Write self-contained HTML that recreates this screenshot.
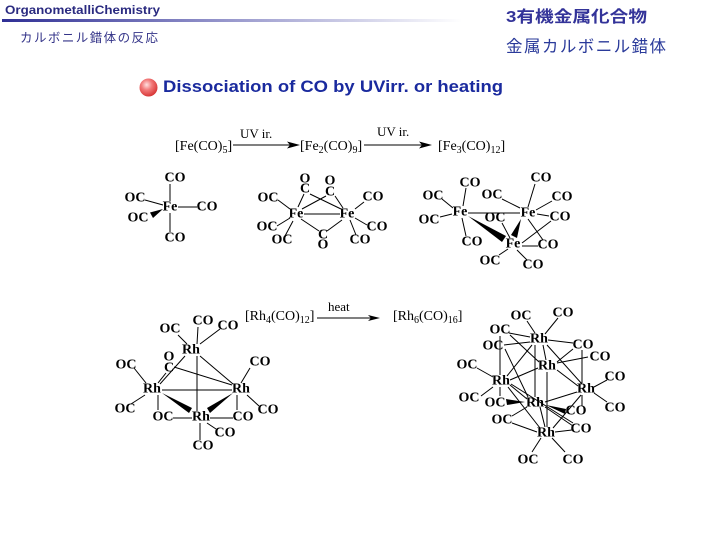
<!DOCTYPE html>
<html><head><meta charset="utf-8"><style>
html,body{margin:0;padding:0;background:#fff;}
svg{display:block;}
.b{font-family:"Liberation Serif",serif;font-weight:bold;font-size:14px;text-anchor:middle;dominant-baseline:central;fill:#000;}
.r{font-family:"Liberation Serif",serif;font-size:14px;fill:#000;}
.s{font-family:"Liberation Serif",serif;font-size:13px;fill:#000;}
line{stroke:#000;stroke-width:1;}
</style></head><body>
<svg width="719" height="539" viewBox="0 0 719 539" xmlns="http://www.w3.org/2000/svg">
<defs>
<linearGradient id="bar" x1="0" x2="1" y1="0" y2="0">
<stop offset="0" stop-color="#2f2f95"/><stop offset="0.45" stop-color="#8f8fc8"/><stop offset="1" stop-color="#ffffff"/>
</linearGradient>
<radialGradient id="ball" cx="0.4" cy="0.35" r="0.65">
<stop offset="0" stop-color="#ffe0e0"/><stop offset="0.45" stop-color="#f27a7a"/><stop offset="1" stop-color="#d83838"/>
</radialGradient>
</defs>
<rect width="719" height="539" fill="#fff"/>
<!-- header -->
<text x="5" y="14" font-family="Liberation Sans, sans-serif" font-weight="bold" font-size="12" fill="#2a2a80" textLength="155" lengthAdjust="spacingAndGlyphs">OrganometalliChemistry</text>
<rect x="2" y="19" width="460" height="3" fill="url(#bar)"/>
<text x="20" y="42" font-family="Liberation Sans, 'Noto Sans CJK JP', sans-serif" font-size="12.5" fill="#333388" textLength="138" lengthAdjust="spacing">カルボニル錯体の反応</text>
<text x="506" y="22" font-family="Liberation Sans, 'Noto Sans CJK JP', sans-serif" font-weight="bold" font-size="16" fill="#333399" textLength="141" lengthAdjust="spacingAndGlyphs">3有機金属化合物</text>
<text x="506" y="52" font-family="Liberation Sans, 'Noto Sans CJK JP', sans-serif" font-size="16.5" fill="#2a3a9a" textLength="160" lengthAdjust="spacing">金属カルボニル錯体</text>
<!-- title -->
<circle cx="148.5" cy="87.5" r="9" fill="url(#ball)"/>
<text x="163" y="92" font-family="Liberation Sans, sans-serif" font-weight="bold" font-size="17" fill="#1a2a9e" textLength="340" lengthAdjust="spacingAndGlyphs">Dissociation of CO by UVirr. or heating</text>

<!-- Fe reactions -->
<text class="r" x="175" y="150">[Fe(CO)<tspan font-size="10" dy="3">5</tspan><tspan dy="-3">]</tspan></text>
<text class="s" x="240" y="138">UV ir.</text>
<line x1="233" y1="145" x2="292" y2="145"/>
<polygon points="300,145 287,141.5 290,145 287,148.5" fill="#000"/>
<text class="r" x="300" y="150">[Fe<tspan font-size="10" dy="3">2</tspan><tspan dy="-3">(CO)</tspan><tspan font-size="10" dy="3">9</tspan><tspan dy="-3">]</tspan></text>
<text class="s" x="377" y="136">UV ir.</text>
<line x1="364" y1="145" x2="425" y2="145"/>
<polygon points="432,145 419,141.5 422,145 419,148.5" fill="#000"/>
<text class="r" x="438" y="150">[Fe<tspan font-size="10" dy="3">3</tspan><tspan dy="-3">(CO)</tspan><tspan font-size="10" dy="3">12</tspan><tspan dy="-3">]</tspan></text>

<!-- Fe(CO)5 -->
<line x1="170" y1="184" x2="170" y2="201"/>
<line x1="170" y1="213" x2="170" y2="232"/>
<line x1="178" y1="207" x2="197" y2="207"/>
<line x1="145" y1="200" x2="163" y2="205"/>
<polygon points="163,209 150,212.5 153,218" fill="#000"/>
<text class="b" x="175" y="178">CO</text>
<text class="b" x="135" y="198">OC</text>
<text class="b" x="170" y="207">Fe</text>
<text class="b" x="207" y="207">CO</text>
<text class="b" x="138" y="218">OC</text>
<text class="b" x="175" y="238">CO</text>

<!-- Fe2(CO)9 -->
<line x1="278" y1="200" x2="290" y2="209"/>
<line x1="277" y1="226" x2="290" y2="218"/>
<line x1="285" y1="236" x2="293" y2="221"/>
<line x1="304" y1="214" x2="340" y2="214"/>
<line x1="304" y1="194" x2="298" y2="207"/>
<line x1="310" y1="194" x2="341" y2="209"/>
<line x1="326" y1="196" x2="302" y2="209"/>
<line x1="335" y1="196" x2="343" y2="208"/>
<line x1="319" y1="231" x2="301" y2="219"/>
<line x1="327" y1="231" x2="342" y2="220"/>
<line x1="355" y1="209" x2="364" y2="202"/>
<line x1="355" y1="218" x2="367" y2="225"/>
<line x1="350" y1="220" x2="356" y2="235"/>
<text class="b" x="305" y="179">O</text>
<text class="b" x="305" y="189">C</text>
<text class="b" x="330" y="181">O</text>
<text class="b" x="330" y="192">C</text>
<text class="b" x="268" y="198">OC</text>
<text class="b" x="296" y="214">Fe</text>
<text class="b" x="347" y="214">Fe</text>
<text class="b" x="373" y="197">CO</text>
<text class="b" x="267" y="227">OC</text>
<text class="b" x="282" y="240">OC</text>
<text class="b" x="323" y="235">C</text>
<text class="b" x="323" y="245">O</text>
<text class="b" x="377" y="227">CO</text>
<text class="b" x="360" y="240">CO</text>

<!-- Fe3(CO)12 -->
<line x1="466" y1="188" x2="463" y2="206"/>
<line x1="462" y1="218" x2="466" y2="236"/>
<line x1="442" y1="199" x2="453" y2="208"/>
<line x1="440" y1="217" x2="452" y2="214"/>
<line x1="468" y1="213" x2="520" y2="213"/>
<polygon points="468,216 502,242 506,236" fill="#000"/>
<polygon points="521,219 511,235 517,238" fill="#000"/>
<line x1="502" y1="223" x2="510" y2="238"/>
<line x1="535" y1="184" x2="528" y2="207"/>
<line x1="502" y1="199" x2="520" y2="208"/>
<line x1="536" y1="210" x2="552" y2="201"/>
<line x1="537" y1="214" x2="549" y2="216"/>
<line x1="528" y1="219" x2="543" y2="240"/>
<line x1="522" y1="243" x2="551" y2="221"/>
<line x1="522" y1="246" x2="538" y2="246"/>
<line x1="508" y1="249" x2="499" y2="255"/>
<line x1="517" y1="250" x2="527" y2="260"/>
<text class="b" x="470" y="183">CO</text>
<text class="b" x="433" y="196">OC</text>
<text class="b" x="429" y="220">OC</text>
<text class="b" x="460" y="212">Fe</text>
<text class="b" x="472" y="242">CO</text>
<text class="b" x="541" y="178">CO</text>
<text class="b" x="492" y="195">OC</text>
<text class="b" x="528" y="213">Fe</text>
<text class="b" x="562" y="197">CO</text>
<text class="b" x="560" y="217">CO</text>
<text class="b" x="495" y="218">OC</text>
<text class="b" x="513" y="244">Fe</text>
<text class="b" x="548" y="245">CO</text>
<text class="b" x="490" y="261">OC</text>
<text class="b" x="533" y="265">CO</text>

<!-- Rh reaction -->
<text class="r" x="245" y="320">[Rh<tspan font-size="10" dy="3">4</tspan><tspan dy="-3">(CO)</tspan><tspan font-size="10" dy="3">12</tspan><tspan dy="-3">]</tspan></text>
<text class="s" x="328" y="311">heat</text>
<line x1="317" y1="318" x2="373" y2="318"/>
<polygon points="380,318 368,315 371,318 368,321" fill="#000"/>
<text class="r" x="393" y="320">[Rh<tspan font-size="10" dy="3">6</tspan><tspan dy="-3">(CO)</tspan><tspan font-size="10" dy="3">16</tspan><tspan dy="-3">]</tspan></text>

<!-- Rh4(CO)12 -->
<line x1="178" y1="335" x2="187" y2="344"/>
<line x1="198" y1="327" x2="197" y2="344"/>
<line x1="220" y1="329" x2="200" y2="344"/>
<line x1="185" y1="356" x2="160" y2="384"/>
<line x1="200" y1="356" x2="233" y2="384"/>
<line x1="197" y1="356" x2="197" y2="411"/>
<line x1="174" y1="367" x2="232" y2="385"/>
<line x1="166" y1="373" x2="158" y2="383"/>
<line x1="134" y1="368" x2="146" y2="383"/>
<line x1="131" y1="404" x2="145" y2="395"/>
<line x1="162" y1="390" x2="232" y2="390"/>
<line x1="158" y1="395" x2="158" y2="410"/>
<line x1="173" y1="418" x2="192" y2="418"/>
<line x1="210" y1="418" x2="233" y2="418"/>
<polygon points="162,393 189,413 192,408" fill="#000"/>
<polygon points="233,393 207,408 210,413" fill="#000"/>
<line x1="241" y1="383" x2="250" y2="368"/>
<line x1="247" y1="395" x2="259" y2="406"/>
<line x1="237" y1="395" x2="237" y2="410"/>
<line x1="207" y1="423" x2="216" y2="429"/>
<line x1="200" y1="423" x2="200" y2="440"/>
<text class="b" x="170" y="329">OC</text>
<text class="b" x="203" y="321">CO</text>
<text class="b" x="228" y="326">CO</text>
<text class="b" x="191" y="350">Rh</text>
<text class="b" x="169" y="357">O</text>
<text class="b" x="169" y="368">C</text>
<text class="b" x="126" y="365">OC</text>
<text class="b" x="260" y="362">CO</text>
<text class="b" x="152" y="389">Rh</text>
<text class="b" x="241" y="389">Rh</text>
<text class="b" x="125" y="409">OC</text>
<text class="b" x="163" y="417">OC</text>
<text class="b" x="201" y="417">Rh</text>
<text class="b" x="243" y="417">CO</text>
<text class="b" x="268" y="410">CO</text>
<text class="b" x="225" y="433">CO</text>
<text class="b" x="203" y="446">CO</text>

<!-- Rh6(CO)16 -->
<line x1="527" y1="321" x2="535" y2="333"/>
<line x1="558" y1="318" x2="545" y2="334"/>
<line x1="509" y1="333" x2="530" y2="337"/>
<line x1="504" y1="345" x2="530" y2="342"/>
<line x1="548" y1="340" x2="573" y2="343"/>
<line x1="532" y1="345" x2="507" y2="376"/>
<line x1="547" y1="345" x2="582" y2="384"/>
<line x1="543" y1="345" x2="546" y2="360"/>
<line x1="535" y1="345" x2="535" y2="397"/>
<line x1="557" y1="363" x2="588" y2="357"/>
<line x1="547" y1="372" x2="547" y2="427"/>
<line x1="538" y1="368" x2="510" y2="380"/>
<line x1="557" y1="370" x2="578" y2="386"/>
<line x1="582" y1="350" x2="582" y2="383"/>
<line x1="573" y1="349" x2="557" y2="362"/>
<line x1="477" y1="368" x2="493" y2="377"/>
<line x1="481" y1="396" x2="493" y2="387"/>
<line x1="510" y1="385" x2="527" y2="399"/>
<line x1="500" y1="387" x2="500" y2="396"/>
<line x1="508" y1="387" x2="540" y2="428"/>
<line x1="500" y1="336" x2="500" y2="375"/>
<line x1="510" y1="335" x2="539" y2="362"/>
<line x1="505" y1="349" x2="528" y2="397"/>
<line x1="545" y1="402" x2="577" y2="392"/>
<polygon points="525,402 506,399 507,405" fill="#000"/>
<polygon points="546,405 566,409 565,414" fill="#000"/>
<line x1="527" y1="407" x2="512" y2="416"/>
<line x1="540" y1="407" x2="545" y2="427"/>
<line x1="545" y1="407" x2="573" y2="426"/>
<line x1="594" y1="387" x2="607" y2="380"/>
<line x1="594" y1="393" x2="607" y2="402"/>
<line x1="581" y1="395" x2="553" y2="428"/>
<line x1="582" y1="395" x2="582" y2="406"/>
<line x1="537" y1="432" x2="512" y2="423"/>
<line x1="555" y1="432" x2="572" y2="430"/>
<line x1="541" y1="438" x2="532" y2="452"/>
<line x1="552" y1="438" x2="565" y2="452"/>
<line x1="511" y1="384" x2="573" y2="423"/>
<text class="b" x="521" y="316">OC</text>
<text class="b" x="563" y="313">CO</text>
<text class="b" x="500" y="330">OC</text>
<text class="b" x="493" y="346">OC</text>
<text class="b" x="539" y="339">Rh</text>
<text class="b" x="583" y="345">CO</text>
<text class="b" x="600" y="357">CO</text>
<text class="b" x="547" y="366">Rh</text>
<text class="b" x="467" y="365">OC</text>
<text class="b" x="501" y="381">Rh</text>
<text class="b" x="615" y="377">CO</text>
<text class="b" x="586" y="389">Rh</text>
<text class="b" x="469" y="398">OC</text>
<text class="b" x="495" y="403">OC</text>
<text class="b" x="535" y="403">Rh</text>
<text class="b" x="576" y="411">CO</text>
<text class="b" x="615" y="408">CO</text>
<text class="b" x="502" y="420">OC</text>
<text class="b" x="581" y="429">CO</text>
<text class="b" x="546" y="433">Rh</text>
<text class="b" x="528" y="460">OC</text>
<text class="b" x="573" y="460">CO</text>
</svg>
</body></html>
